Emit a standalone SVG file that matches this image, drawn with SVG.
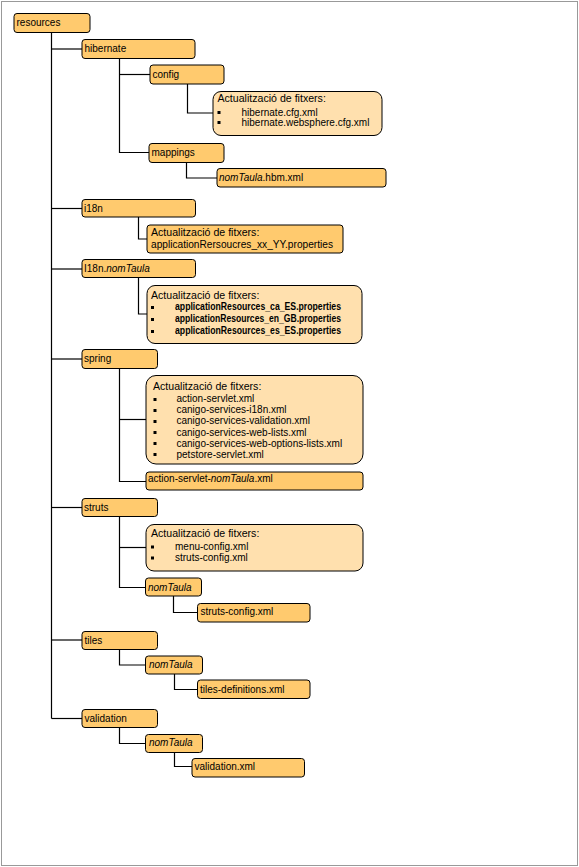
<svg xmlns="http://www.w3.org/2000/svg" width="579" height="867" viewBox="0 0 579 867">
<style>
text{font-family:"Liberation Sans",Arial,sans-serif;font-size:10px;fill:#000}
.n{fill:#FFCA6E;stroke:#000;stroke-width:1}
.nt{fill:#FFE0AE;stroke:#000;stroke-width:1}
.c{fill:none;stroke:#000;stroke-width:1.2}
.h{font-size:10.6px}
.i{font-style:italic}
.b{font-weight:bold}
.bl{fill:#000}
</style>
<rect x="1.5" y="1.5" width="576" height="864" fill="#fff" stroke="#999" stroke-width="1"/>
<g id="connectors">
<path class="c" d="M51.5 32 V718.5"/>
<path class="c" d="M51.5 49 H82"/>
<path class="c" d="M51.5 208.5 H82"/>
<path class="c" d="M51.5 269 H82"/>
<path class="c" d="M51.5 359 H82"/>
<path class="c" d="M51.5 507.5 H82"/>
<path class="c" d="M51.5 640 H82"/>
<path class="c" d="M51.5 718.5 H82"/>
<path class="c" d="M119.5 58 V152.5 H149"/>
<path class="c" d="M119.5 74.5 H150"/>
<path class="c" d="M187.5 84 V113 H213"/>
<path class="c" d="M186.5 162 V178 H217"/>
<path class="c" d="M138.5 217 V239 H147"/>
<path class="c" d="M138.5 277 V314 H147"/>
<path class="c" d="M119.5 368 V481.5 H146"/>
<path class="c" d="M119.5 419.5 H146"/>
<path class="c" d="M119.5 516.5 V587.5 H145.5"/>
<path class="c" d="M119.5 547.5 H146"/>
<path class="c" d="M173.5 596 V612.5 H197.5"/>
<path class="c" d="M119.5 649 V665 H145.5"/>
<path class="c" d="M174.5 674 V689.5 H197.5"/>
<path class="c" d="M119.5 727 V743.5 H145.5"/>
<path class="c" d="M174.5 752 V766.5 H192"/>
</g>
<g id="resources"><rect class="n" x="14" y="13.5" width="76" height="19" rx="3"/><text x="16.5" y="26">resources</text></g>
<g id="hibernate"><rect class="n" x="82" y="39.5" width="113" height="19" rx="3"/><text x="84.5" y="52">hibernate</text></g>
<g id="config"><rect class="n" x="150" y="65" width="74" height="19" rx="3"/><text x="152.5" y="77.5">config</text></g>
<g id="config-note"><rect class="nt" x="213" y="91.5" width="169" height="44" rx="8"/><text class="h" x="217.5" y="102">Actualització de fitxers:</text><rect class="bl" x="217.5" y="111" width="3" height="3"/><text x="241.5" y="115.5">hibernate.cfg.xml</text><rect class="bl" x="217.5" y="121" width="3" height="3"/><text x="241.5" y="125.5">hibernate.websphere.cfg.xml</text></g>
<g id="mappings"><rect class="n" x="149" y="143.5" width="75" height="19" rx="3"/><text x="151.5" y="156">mappings</text></g>
<g id="hbm"><rect class="n" x="217" y="168.5" width="169" height="18.5" rx="3"/><text x="219" y="181"><tspan class="i">nomTaula</tspan>.hbm.xml</text></g>
<g id="i18n"><rect class="n" x="82" y="199.5" width="113.5" height="17.5" rx="3"/><text x="84" y="211.5">i18n</text></g>
<g id="i18n-note"><rect class="n" x="147" y="225" width="196" height="28" rx="3"/><text class="h" x="151" y="236">Actualització de fitxers:</text><text x="151" y="248" textLength="182" lengthAdjust="spacingAndGlyphs">applicationRersoucres_xx_YY.properties</text></g>
<g id="i18n-nomTaula"><rect class="n" x="82" y="259.5" width="113.5" height="18" rx="3"/><text x="84" y="272">I18n.<tspan class="i">nomTaula</tspan></text></g>
<g id="i18n-nomTaula-note"><rect class="nt" x="147" y="285.5" width="215" height="58" rx="8"/><text class="h" x="151" y="299">Actualització de fitxers:</text><rect class="bl" x="151" y="306" width="3" height="3"/><text class="b" x="175" y="310" textLength="166" lengthAdjust="spacingAndGlyphs">applicationResources_ca_ES.properties</text><rect class="bl" x="151" y="318" width="3" height="3"/><text class="b" x="175" y="322" textLength="166" lengthAdjust="spacingAndGlyphs">applicationResources_en_GB.properties</text><rect class="bl" x="151" y="330" width="3" height="3"/><text class="b" x="175" y="334" textLength="166" lengthAdjust="spacingAndGlyphs">applicationResources_es_ES.properties</text></g>
<g id="spring"><rect class="n" x="82" y="349.5" width="75.5" height="19" rx="3"/><text x="84" y="362">spring</text></g>
<g id="spring-note"><rect class="nt" x="146" y="375.5" width="217" height="88.5" rx="10"/><text class="h" x="153" y="389.5">Actualització de fitxers:</text><rect class="bl" x="153.5" y="398" width="3" height="3"/><text x="176.5" y="402">action-servlet.xml</text><rect class="bl" x="153.5" y="409" width="3" height="3"/><text x="176.5" y="413">canigo-services-i18n.xml</text><rect class="bl" x="153.5" y="420" width="3" height="3"/><text x="176.5" y="424">canigo-services-validation.xml</text><rect class="bl" x="153.5" y="431" width="3" height="3"/><text x="176.5" y="435.5">canigo-services-web-lists.xml</text><rect class="bl" x="153.5" y="442" width="3" height="3"/><text x="176.5" y="446.5">canigo-services-web-options-lists.xml</text><rect class="bl" x="153.5" y="453" width="3" height="3"/><text x="176.5" y="457.5">petstore-servlet.xml</text></g>
<g id="action-servlet-nomTaula"><rect class="n" x="146" y="472" width="217" height="18" rx="3"/><text x="148" y="482">action-servlet-<tspan class="i">nomTaula</tspan>.xml</text></g>
<g id="struts"><rect class="n" x="82" y="498.5" width="75.5" height="18" rx="3"/><text x="84" y="511">struts</text></g>
<g id="struts-note"><rect class="nt" x="146" y="524.5" width="217" height="46.5" rx="8"/><text class="h" x="151" y="537">Actualització de fitxers:</text><rect class="bl" x="151" y="545.5" width="3" height="3"/><text x="175" y="549.5">menu-config.xml</text><rect class="bl" x="151" y="556.5" width="3" height="3"/><text x="175" y="560.5">struts-config.xml</text></g>
<g id="struts-nomTaula"><rect class="n" x="145.5" y="578" width="56" height="18" rx="3"/><text class="i" x="148" y="591">nomTaula</text></g>
<g id="struts-config"><rect class="n" x="197.5" y="603.5" width="112.5" height="18.5" rx="3"/><text x="200.5" y="614.5">struts-config.xml</text></g>
<g id="tiles"><rect class="n" x="82" y="631.5" width="75.5" height="18" rx="3"/><text x="84.5" y="643.5">tiles</text></g>
<g id="tiles-nomTaula"><rect class="n" x="145.5" y="656" width="57" height="18" rx="3"/><text class="i" x="149" y="667.5">nomTaula</text></g>
<g id="tiles-definitions"><rect class="n" x="197.5" y="680" width="112.5" height="18.5" rx="3"/><text x="200" y="693">tiles-definitions.xml</text></g>
<g id="validation"><rect class="n" x="82" y="709.5" width="75.5" height="18" rx="3"/><text x="84.5" y="722">validation</text></g>
<g id="validation-nomTaula"><rect class="n" x="145.5" y="734.5" width="57" height="18" rx="3"/><text class="i" x="149" y="746">nomTaula</text></g>
<g id="validation-xml"><rect class="n" x="192" y="758.5" width="112.5" height="18.5" rx="3"/><text x="194.5" y="770">validation.xml</text></g>
</svg>
